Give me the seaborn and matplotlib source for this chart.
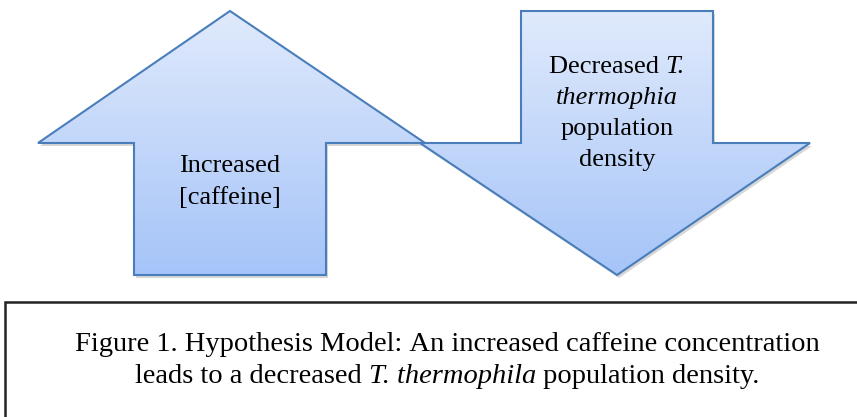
import numpy as np
import matplotlib
matplotlib.use("Agg")
import matplotlib.pyplot as plt
from matplotlib.patches import Polygon, Rectangle
import seaborn as sns

# arrow outlines in pixel coordinates (x, y with y going down)
up_x = [38, 230, 425, 326, 326, 134, 134, 38]
up_y = [143, 11, 143, 143, 275, 275, 143, 143]
down_x = [521, 713, 713, 810, 617, 420, 521, 521]
down_y = [11, 11, 143, 143, 275, 143, 143, 11]

# each line is a list of (text, italic) pieces
up_lines = [[("Increased", False)], [("[caffeine]", False)]]
down_lines = [[("Decreased ", False), ("T.", True)], [("thermophia", True)],
              [("population", False)], [("density", False)]]
caption_lines = [[("Figure 1. Hypothesis Model: An increased caffeine concentration", False)],
                 [("leads to a decreased ", False), ("T. thermophila", True),
                  (" population density.", False)]]

sns.set_theme(style="white")
plt.rcParams["font.family"] = ["Liberation Serif", "DejaVu Serif"]

fig = plt.figure(figsize=(8.57, 4.17), dpi=100)
ax = fig.add_axes([0, 0, 1, 1])
ax.set_xlim(0, 857)
ax.set_ylim(417, 0)
ax.axis("off")
renderer = fig.canvas.get_renderer()

grad = np.linspace(0, 1, 256).reshape(-1, 1)
cmap = matplotlib.colors.LinearSegmentedColormap.from_list("fill", ["#e0eafc", "#a5c4f8"])


def draw_arrow(xs, ys):
    pts = np.column_stack([xs, ys])
    # soft shadow
    ax.add_patch(Polygon(pts + [2, 3], closed=True, facecolor="#bdbdbd",
                         edgecolor="none", alpha=0.6, zorder=1))
    poly = Polygon(pts, closed=True, facecolor="none", edgecolor="#4a7ebb",
                   linewidth=1.5, zorder=3)
    ax.add_patch(poly)
    im = ax.imshow(grad, cmap=cmap, aspect="auto", zorder=2,
                   extent=[min(xs), max(xs), max(ys), min(ys)])
    im.set_clip_path(poly)


def draw_line(pieces, xc, y, size):
    # measure the pieces, then lay them out left to right around xc
    widths = []
    for t, it in pieces:
        tmp = ax.text(0, 0, t.replace(" ", "\u00a0"), fontsize=size,
                      style="italic" if it else "normal")
        widths.append(tmp.get_window_extent(renderer).width)
        tmp.remove()
    x = xc - sum(widths) / 2
    for (t, it), w in zip(pieces, widths):
        ax.text(x, y, t.replace(" ", "\u00a0"), ha="left", va="baseline", fontsize=size,
                style="italic" if it else "normal", color="black", zorder=4)
        x += w


draw_arrow(up_x, up_y)
draw_arrow(down_x, down_y)
ax.set_xlim(0, 857)
ax.set_ylim(417, 0)

for i, line in enumerate(up_lines):
    draw_line(line, 230, 172 + i * 32, 19)
for i, line in enumerate(down_lines):
    draw_line(line, 617, 73 + i * 31, 19)

ax.add_patch(Rectangle((5, 302), 860, 130, facecolor="white", edgecolor="#222222",
                       linewidth=1.8, zorder=1))
for i, line in enumerate(caption_lines):
    draw_line(line, 447, 351 + i * 32, 20.5)

fig.savefig("out.png", dpi=100)
